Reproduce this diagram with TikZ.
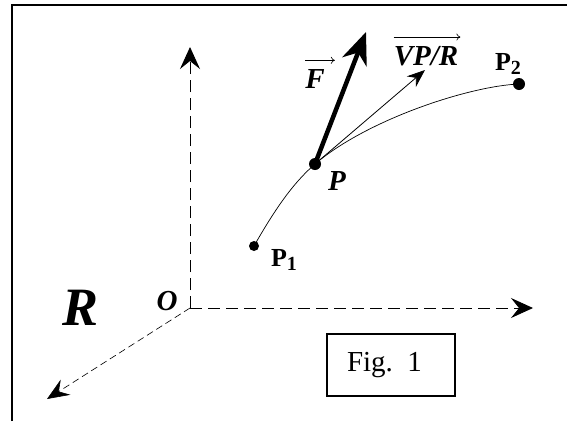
\documentclass[tikz,border=0pt]{standalone}
\usepackage{fontspec}
\setmainfont{Liberation Serif}
\usetikzlibrary{arrows.meta,positioning}

\begin{document}
\begin{tikzpicture}[x=1pt, y=-1pt,
  axis/.style={line width=0.9pt, dash pattern=on 12pt off 6pt, -{Stealth[length=22pt, width=20pt, inset=8pt]}},
  axisd/.style={line width=0.6pt, dash pattern=on 7pt off 4pt, -{Stealth[length=22pt, width=18pt, inset=8pt]}},
  force/.style={line width=4.5pt, -{Stealth[length=32pt, width=26pt, inset=10pt]}},
  vel/.style={line width=0.8pt, -{Stealth[length=18pt, width=14pt, inset=6pt]}},
  overarr/.style={line width=0.6pt, -{To[length=4pt, width=7pt]}},
  dot/.style={circle, fill, inner sep=0pt, minimum size=#1},
  lbl/.style={inner sep=0pt, font=\fontsize{29}{29}\selectfont\bfseries\itshape},
  pname/.style={inner sep=0pt, font=\fontsize{26}{26}\selectfont\bfseries}
]
\useasboundingbox (0,0) rectangle (567,421);
\draw[line width=2pt] (12,421) -- (12,5) -- (567,5);

\coordinate (o) at (190,308);
\coordinate (ztip) at (190,47);
\coordinate (xtip) at (533,308);
\coordinate (ytip) at (47,399);
\draw[axis] (o) -- (ztip);
\draw[axis] (o) -- (xtip);
\draw[axisd] (o) -- (ytip);

\node[lbl, font=\fontsize{54}{54}\selectfont\bfseries\itshape] (r) at (81,308) {R};
\node[lbl] (olbl) at (167,301) {O};

\node[dot=10pt] (p1) at (254,246) {};
\node[dot=12pt] (p) at (315,164) {};
\node[dot=12pt] (p2) at (519,84) {};
\draw[line width=0.7pt] (p1.center) .. controls (274,211) and (292,184) .. (p.center)
  .. controls (368,119) and (470,86) .. (p2.center);

\coordinate (ftip) at (366,32);
\coordinate (vtip) at (425,70);
\draw[force] (p.center) -- (ftip);
\draw[vel] (p.center) -- (vtip);

\node[pname] (p1lbl) at (284,260) {P\raisebox{-4pt}{\fontsize{20}{20}\selectfont 1}};
\node[lbl] (plbl) at (337,181) {P};
\node[pname] (p2lbl) at (508,64) {P\raisebox{-4pt}{\fontsize{20}{20}\selectfont 2}};
\node[lbl] (flbl) at (315,79) {F};
\node[lbl] (vlbl) at (426,56) {VP/R};
\draw[overarr] ([yshift=9pt]flbl.north west) -- ([xshift=10pt, yshift=9pt]flbl.north east);
\draw[overarr] ([yshift=9pt]vlbl.north west) -- ([xshift=2pt, yshift=9pt]vlbl.north east);

\node[draw, line width=1.5pt, minimum width=128pt, minimum height=62pt, inner xsep=20pt, text width=88pt, align=left,
  font=\fontsize{29}{29}\selectfont] (fig) at (391,365) {Fig. 1};
\end{tikzpicture}
\end{document}
